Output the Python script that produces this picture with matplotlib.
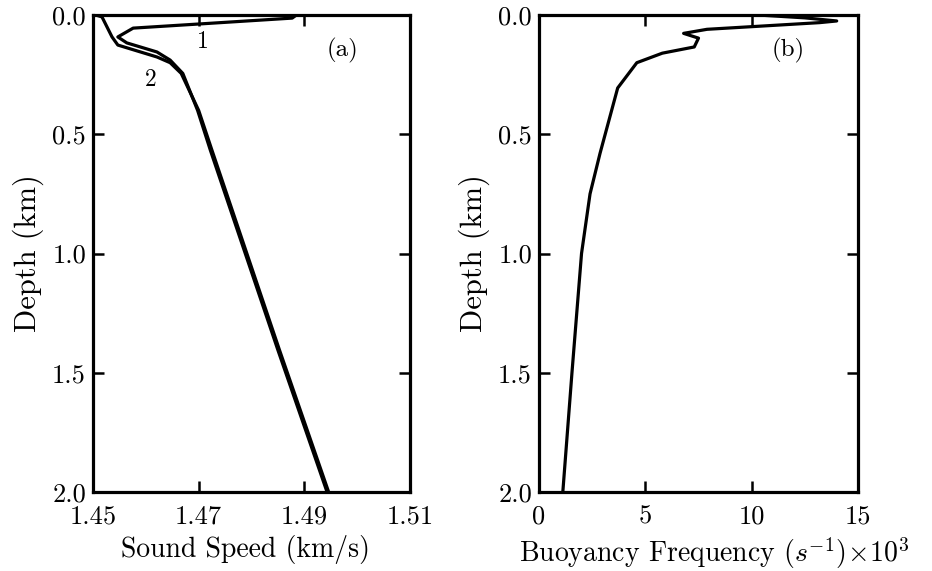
import numpy as np
import matplotlib
matplotlib.use("Agg")
import matplotlib.pyplot as plt

plt.rcParams['font.family'] = ['cmr10', 'DejaVu Serif']
plt.rcParams['mathtext.fontset'] = 'cm'
plt.rcParams['axes.formatter.use_mathtext'] = True

# profile 1 (sound speed, km/s vs depth, km)
speed1 = [1.4885, 1.4877, 1.4720, 1.4576, 1.4547, 1.4564, 1.4621, 1.4646, 1.4670, 1.4698, 1.4722, 1.4850, 1.4943]
depth1 = [0.0, 0.013, 0.035, 0.055, 0.092, 0.117, 0.155, 0.189, 0.245, 0.40, 0.566, 1.405, 2.0]
# profile 2
speed2 = [1.4505, 1.4517, 1.4536, 1.4547, 1.4621, 1.4646, 1.4667, 1.4700, 1.4725, 1.4853, 1.4946]
depth2 = [0.0, 0.008, 0.092, 0.126, 0.176, 0.200, 0.245, 0.40, 0.566, 1.405, 2.0]

# buoyancy frequency (x1e3 s^-1)
freq = [10.3, 12.5, 14.0, 13.2, 7.9, 6.8, 7.5, 7.3, 5.8, 4.6, 3.7, 2.87, 2.4, 2.0, 1.55, 1.12]
depth_n = [0.0, 0.012, 0.025, 0.032, 0.060, 0.077, 0.097, 0.134, 0.160, 0.200, 0.306, 0.580, 0.750, 1.0, 1.5, 2.0]

speed_ticks = [1.45, 1.47, 1.49, 1.51]
freq_ticks = [0, 5, 10, 15]
depth_ticks = [0.0, 0.5, 1.0, 1.5, 2.0]

fig = plt.figure(figsize=(9.32, 5.71), dpi=100)
ax1 = fig.add_axes([93/932, 1 - 492/571, (410-93)/932, (492-15)/571])
ax2 = fig.add_axes([539/932, 1 - 492/571, (858-539)/932, (492-15)/571])

ax1.plot(speed1, depth1, color='black', lw=2.3, solid_joinstyle='round')
ax1.plot(speed2, depth2, color='black', lw=2.3, solid_joinstyle='round')
ax1.set_xlim(1.45, 1.51)
ax1.set_xticks(speed_ticks)
ax1.set_xticklabels(['%.2f' % v for v in speed_ticks])
ax1.set_xlabel('Sound Speed (km/s)', fontsize=20)
ax1.xaxis.set_label_coords(0.48, -0.09)
ax1.text(1.4708, 0.115, '1', fontsize=17, ha='center', va='center')
ax1.text(1.4610, 0.272, '2', fontsize=17, ha='center', va='center')
ax1.text(1.4972, 0.150, '(a)', fontsize=18, ha='center', va='center')

ax2.plot(freq, depth_n, color='black', lw=2.3, solid_joinstyle='round')
ax2.set_xlim(0, 15)
ax2.set_xticks(freq_ticks)
ax2.set_xticklabels([str(v) for v in freq_ticks])
ax2.set_xlabel(r'Buoyancy Frequency $(s^{-1})\!\times\!10^3$', fontsize=20)
ax2.xaxis.set_label_coords(0.55, -0.09)
ax2.text(11.7, 0.150, '(b)', fontsize=18, ha='center', va='center')

for ax in (ax1, ax2):
    ax.set_ylim(2.0, 0.0)
    ax.set_yticks(depth_ticks)
    ax.set_yticklabels(['%.1f' % v for v in depth_ticks])
    ax.set_ylabel('Depth (km)', fontsize=22, labelpad=6)
    ax.tick_params(direction='in', length=8, width=1.8, labelsize=19,
                   top=True, right=True)
    ax.tick_params(axis='x', pad=9)
    ax.tick_params(axis='y', pad=5)
    for s in ax.spines.values():
        s.set_linewidth(2.3)

fig.savefig('out.png', dpi=100)
